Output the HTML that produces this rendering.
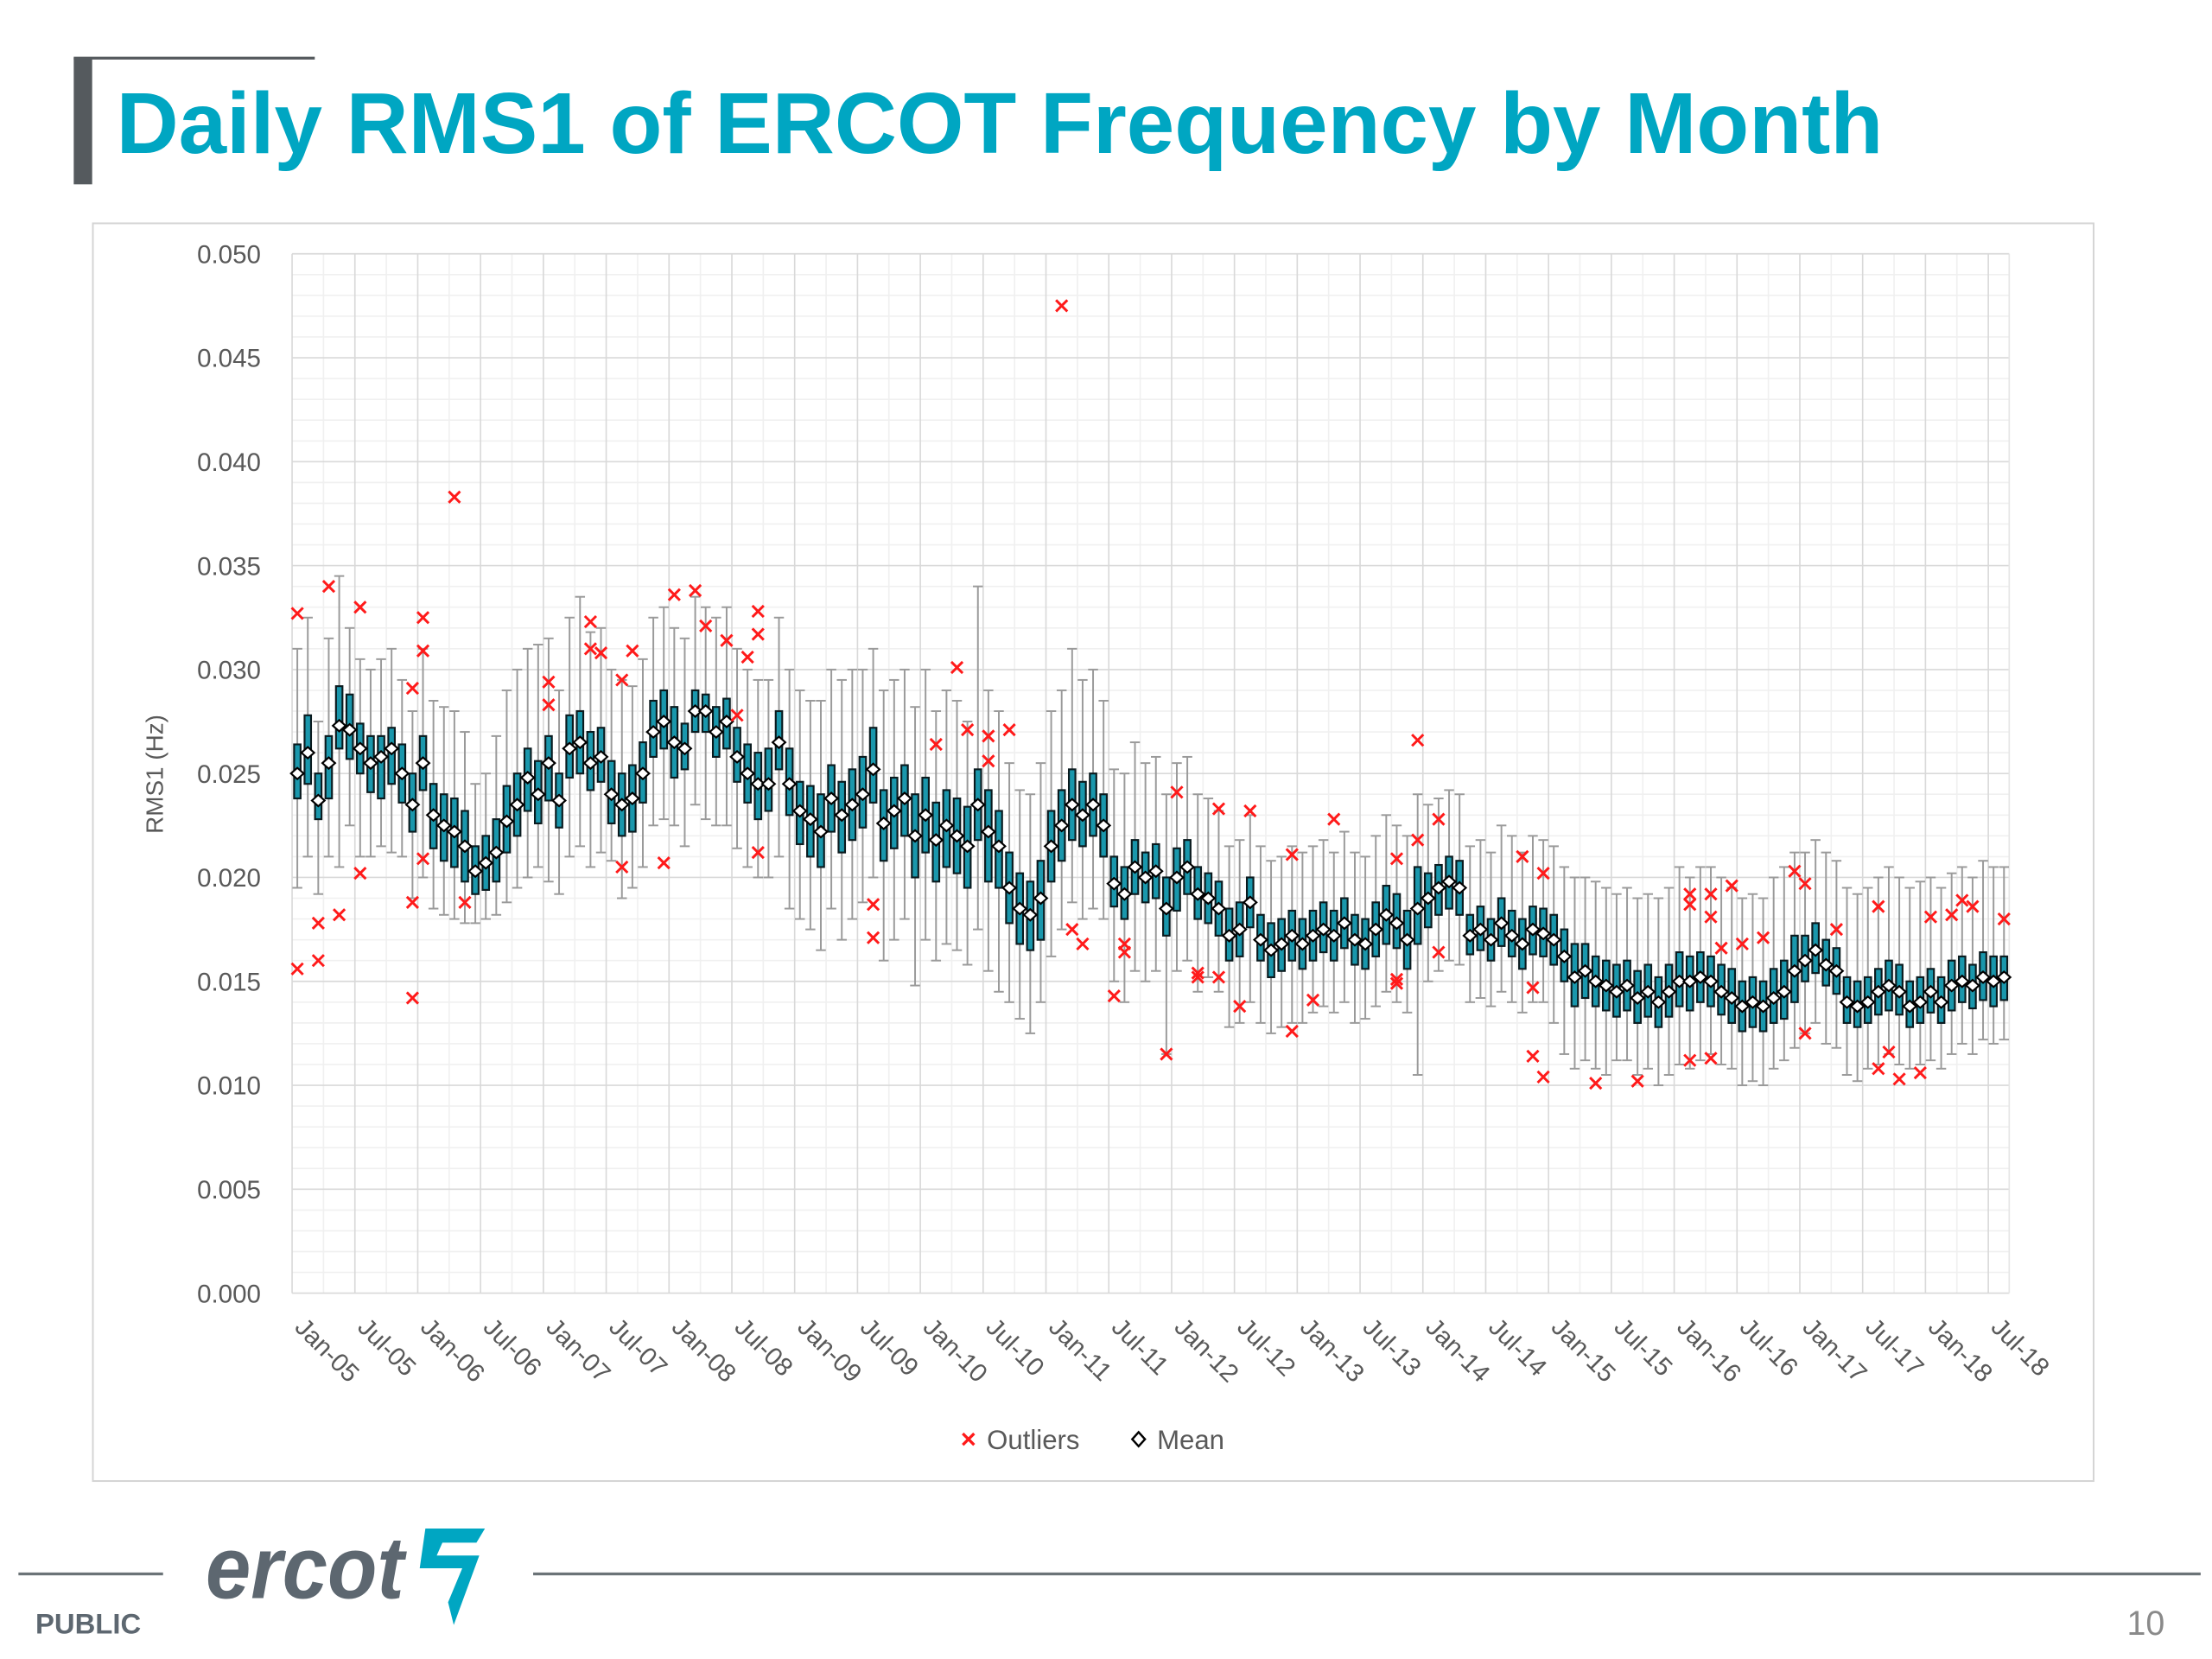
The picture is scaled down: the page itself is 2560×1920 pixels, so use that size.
<!DOCTYPE html>
<html><head><meta charset="utf-8"><style>
html,body{margin:0;padding:0;background:#fff;}
svg{display:block;}
text{font-family:"Liberation Sans",sans-serif;}
</style></head><body>
<svg id="root" width="2560" height="1920" viewBox="0 0 1560 1170" preserveAspectRatio="none" xmlns="http://www.w3.org/2000/svg">
<rect x="0" y="0" width="1560" height="1170" fill="#fff"/>
<g>
<rect x="52" y="41" width="13" height="89" fill="#555a5e"/>
<rect x="52" y="40" width="170" height="2" fill="#555a5e"/>
<text x="82" y="108" font-size="61" font-weight="bold" fill="#00a6c2" textLength="1246" lengthAdjust="spacingAndGlyphs">Daily RMS1 of ERCOT Frequency by Month</text>
</g>
<rect x="65.5" y="157.5" width="1411" height="887" fill="#fff" stroke="#d4d4d4" stroke-width="1.2"/>
<g id="grid"></g>
<g id="yaxis"></g>
<g id="xaxis"></g>
<g id="marks"></g>
<text transform="translate(115,546) rotate(-90)" text-anchor="middle" font-size="17" fill="#595959">RMS1 (Hz)</text>
<g>
<g>
<path d="M679,1011 l8,8 M687,1011 l-8,8" stroke="#ff1a1a" stroke-width="2"/>
<text x="696" y="1022" font-size="19" fill="#595959">Outliers</text>
</g>
<g>
<path d="M803,1010 l4.5,5 l-4.5,5 l-4.5,-5 z" fill="#fff" stroke="#000" stroke-width="1.5"/>
<text x="816" y="1022" font-size="19" fill="#595959">Mean</text>
</g>
</g>
<g>
<rect x="13" y="1109" width="102" height="2" fill="#6b7377"/>
<rect x="376" y="1109" width="1176" height="2" fill="#6b7377"/>
<text x="145" y="1127" font-size="62" font-style="italic" font-weight="bold" fill="#5d6770" textLength="140" lengthAdjust="spacingAndGlyphs">ercot</text>
<path d="M300,1078 L342,1078 L336,1088 L312,1088 L308,1097 L338,1097 L320,1146 L316,1130 L326,1106 L296,1106 Z" fill="#00a6c2"/>
<text x="25" y="1152" font-size="20" font-weight="bold" fill="#5d6770">PUBLIC</text>
<text x="1500" y="1153" font-size="24" fill="#8a8a8a">10</text>
</g>
</svg>
<script>
// values in units of 1e-4 Hz, monthly Jan-05 .. Aug-18
const months = ["Jan-05","Jul-05","Jan-06","Jul-06","Jan-07","Jul-07","Jan-08","Jul-08","Jan-09","Jul-09","Jan-10","Jul-10","Jan-11","Jul-11","Jan-12","Jul-12","Jan-13","Jul-13","Jan-14","Jul-14","Jan-15","Jul-15","Jan-16","Jul-16","Jan-17","Jul-17","Jan-18","Jul-18"];
const yTicks = ["0.000","0.005","0.010","0.015","0.020","0.025","0.030","0.035","0.040","0.045","0.050"];
const meanVals = [
250,260,237,255,273,271,262,255,258,262,250,235,
255,230,225,222,215,203,207,212,227,235,248,240,
255,237,262,265,255,258,240,235,238,250,270,275,
265,262,280,280,270,275,258,250,245,245,265,245,
232,228,222,238,230,235,240,252,226,232,238,220,
230,218,225,220,215,235,222,215,195,185,182,190,
215,225,235,230,235,225,197,192,205,200,203,185,
200,205,192,190,185,172,175,188,170,165,168,172,
168,172,175,172,178,170,168,175,182,178,170,185,
190,195,198,195,172,175,170,178,172,168,175,173,
170,162,152,155,150,148,145,148,142,145,140,145,
150,150,152,150,145,142,138,140,138,142,145,155,
160,165,158,155,140,138,140,145,148,145,138,140,
145,140,148,150,148,152,150,152];
const q1Vals = [
238,245,228,238,262,257,250,241,238,245,236,222,
242,214,208,205,198,192,194,198,212,220,232,226,
237,224,248,250,242,246,226,220,222,236,258,262,
248,252,270,270,258,262,246,236,228,232,252,230,
216,210,205,222,212,218,224,236,208,214,220,200,
212,198,205,202,195,218,198,195,178,168,165,170,
198,208,218,215,220,210,186,180,192,188,190,172,
184,192,180,178,172,160,162,176,160,152,155,160,
156,160,164,160,166,158,156,162,168,166,156,168,
176,182,185,182,163,165,160,167,162,156,163,162,
158,150,138,142,138,136,133,136,130,133,128,133,
138,136,140,138,134,130,126,128,126,130,132,140,
150,154,148,144,130,128,130,134,136,134,128,130,
135,130,136,140,137,141,138,141];
const q3Vals = [
264,278,250,268,292,288,274,268,268,272,264,250,
268,245,240,238,232,215,220,228,244,250,262,256,
268,250,278,280,270,272,256,250,254,265,285,290,
282,274,290,288,282,286,272,264,260,262,280,262,
246,244,240,254,246,252,258,272,242,248,254,240,
248,236,242,238,234,252,242,232,212,202,198,208,
232,242,252,246,250,240,210,205,218,212,216,200,
214,218,205,202,198,185,188,200,182,178,180,184,
180,184,188,184,190,182,180,188,196,192,184,205,
202,206,210,208,182,186,180,190,184,180,186,185,
182,175,168,168,162,160,158,160,155,158,152,158,
164,162,164,162,158,156,150,152,150,156,160,172,
172,178,170,166,152,150,152,156,160,158,150,152,
156,152,160,162,158,164,162,162];
const whLoVals = [
195,210,192,210,205,225,210,210,215,212,210,190,
200,185,182,180,178,178,180,182,188,195,200,205,
198,192,210,215,205,212,208,190,195,205,225,228,
225,215,235,228,225,225,214,205,200,200,210,185,
180,175,165,185,170,180,188,200,160,170,180,148,
170,160,168,165,158,175,155,145,140,132,125,140,
162,175,188,180,185,180,150,140,155,150,155,115,
155,160,145,152,145,128,130,140,130,125,128,130,
130,135,138,135,140,130,132,138,145,140,135,105,
150,155,160,158,140,142,138,145,140,135,140,140,
130,115,108,112,108,105,112,112,105,108,100,105,
110,108,112,115,110,108,100,102,100,108,112,118,
125,130,120,118,105,102,108,110,115,110,108,110,
112,108,115,120,115,122,120,122];
const whHiVals = [
310,325,275,315,345,320,305,300,305,310,295,280,
310,285,282,280,270,245,250,268,290,300,310,312,
315,290,325,335,318,320,300,295,292,305,325,330,
320,315,335,330,325,330,310,300,295,295,325,300,
290,285,285,300,295,300,300,310,290,295,300,282,
300,280,290,285,275,340,290,280,255,242,240,255,
280,290,310,295,300,285,252,250,265,255,258,240,
255,258,240,238,232,215,218,230,215,208,210,215,
212,215,218,212,222,212,210,220,230,225,220,240,
235,238,242,240,215,218,212,225,220,212,220,218,
215,205,200,200,198,195,192,195,190,192,190,195,
205,200,205,205,200,195,190,192,190,200,205,212,
212,218,212,208,195,192,195,200,205,200,195,198,
200,195,202,205,200,208,205,205];
const outlierIdx = [0,0,2,2,3,4,6,6,11,11,11,12,12,12,15,16,24,24,28,28,29,31,31,32,35,36,38,39,41,42,43,44,44,44,55,55,61,63,64,66,66,68,73,74,75,78,79,79,83,84,86,86,88,88,90,91,95,95,97,99,105,105,105,107,107,109,109,117,118,118,119,119,124,128,133,133,133,135,135,135,136,137,138,140,143,144,144,147,151,151,152,153,155,156,158,159,160,163];
const outlierVals = [327,156,178,160,340,182,330,202,291,188,142,325,309,209,383,188,294,283,323,310,308,295,205,309,207,336,338,321,314,278,306,328,317,212,187,171,264,301,271,268,256,271,475,175,168,143,168,164,115,241,152,154,233,152,138,232,211,126,141,228,209,151,149,266,218,228,164,210,147,114,202,104,101,102,192,187,112,192,181,113,166,196,168,171,203,197,125,175,186,108,116,103,106,181,182,189,186,180];

const NS = "http://www.w3.org/2000/svg";
const PX0 = 206, PX1 = 1417, PY0 = 912, PY1 = 179;
const N = meanVals.length;
const band = (PX1 - PX0) / N;
function xs(i){ return PX0 + (i + 0.5) * band; }
function xb(i){ return PX0 + i * band; }
function ys(v){ return PY0 - (v / 500) * (PY0 - PY1); }
function mk(tag, attrs, parent){
  const e = document.createElementNS(NS, tag);
  for (const k in attrs) e.setAttribute(k, attrs[k]);
  parent.appendChild(e);
  return e;
}
const grid = document.getElementById('grid');
const yaxis = document.getElementById('yaxis');
const xaxis = document.getElementById('xaxis');
const marks = document.getElementById('marks');

// minor horizontal grid (0.001)
for (let v = 0; v <= 500; v += 10) {
  if (v % 50 === 0) continue;
  const l = mk('line', {x1:PX0, x2:PX1, y1:ys(v), y2:ys(v), stroke:'#f0f0f0', 'stroke-width':1}, grid);
  
  
}
// minor vertical grid (every 3 months)
for (let i = 0; i <= N + 3; i += 3) {
  if (i % 6 === 0) continue;
  const x = xb(i); if (x > PX1) break;
  const l = mk('line', {x1:x, x2:x, y1:PY1, y2:PY0, stroke:'#f0f0f0', 'stroke-width':1}, grid);
  
  
}
// major horizontal grid + y labels
yTicks.forEach((t, k) => {
  const v = k * 50;
  const l = mk('line', {x1:PX0, x2:PX1, y1:ys(v), y2:ys(v), stroke:'#d9d9d9', 'stroke-width':1}, grid);
  
  
  const tx = mk('text', {x:184, y:ys(v) + 6.5, 'text-anchor':'end', 'font-size':18, fill:'#595959'}, yaxis);
  
  
  tx.textContent = t;
});
// major vertical grid + x labels
months.forEach((m, k) => {
  const x = xb(k * 6);
  const l = mk('line', {x1:x, x2:x, y1:PY1, y2:PY0, stroke:'#d9d9d9', 'stroke-width':1}, grid);
  
  
  const tx = mk('text', {x:0, y:0, 'font-size':18, fill:'#595959', transform:'translate(' + (x + 1) + ',937) rotate(45)'}, xaxis);
  
  
  tx.textContent = m;
});
{
  const l = mk('line', {x1:PX1, x2:PX1, y1:PY1, y2:PY0, stroke:'#e6e6e6', 'stroke-width':1}, grid);
  
  
}

// boxes
const bw = band * 0.62;
for (let i = 0; i < N; i++) {
  const g = mk('g', {}, marks);
  
  
  const x = xs(i);
  mk('line', {x1:x, x2:x, y1:ys(whHiVals[i]), y2:ys(whLoVals[i]), stroke:'#9a9a9a', 'stroke-width':1.2}, g);
  mk('line', {x1:x - 3.5, x2:x + 3.5, y1:ys(whHiVals[i]), y2:ys(whHiVals[i]), stroke:'#9a9a9a', 'stroke-width':1.2}, g);
  mk('line', {x1:x - 3.5, x2:x + 3.5, y1:ys(whLoVals[i]), y2:ys(whLoVals[i]), stroke:'#9a9a9a', 'stroke-width':1.2}, g);
  mk('rect', {x:x - bw / 2, y:ys(q3Vals[i]), width:bw, height:ys(q1Vals[i]) - ys(q3Vals[i]), fill:'#1a97ac', stroke:'#0a1a1e', 'stroke-width':1.3}, g);
}
for (let i = 0; i < N; i++) {
  const x = xs(i), y = ys(meanVals[i]);
  const d = mk('path', {d:'M' + x + ',' + (y - 4) + ' l4.5,4 l-4.5,4 l-4.5,-4 z', fill:'#fff', stroke:'#000', 'stroke-width':1.3}, marks);
  
  
}
for (let k = 0; k < outlierIdx.length; k++) {
  const x = xs(outlierIdx[k]), y = ys(outlierVals[k]);
  const o = mk('path', {d:'M' + (x - 4) + ',' + (y - 4) + ' l8,8 M' + (x + 4) + ',' + (y - 4) + ' l-8,8', stroke:'#ff1a1a', 'stroke-width':1.8}, marks);
  
  
}
</script>
</body></html>
